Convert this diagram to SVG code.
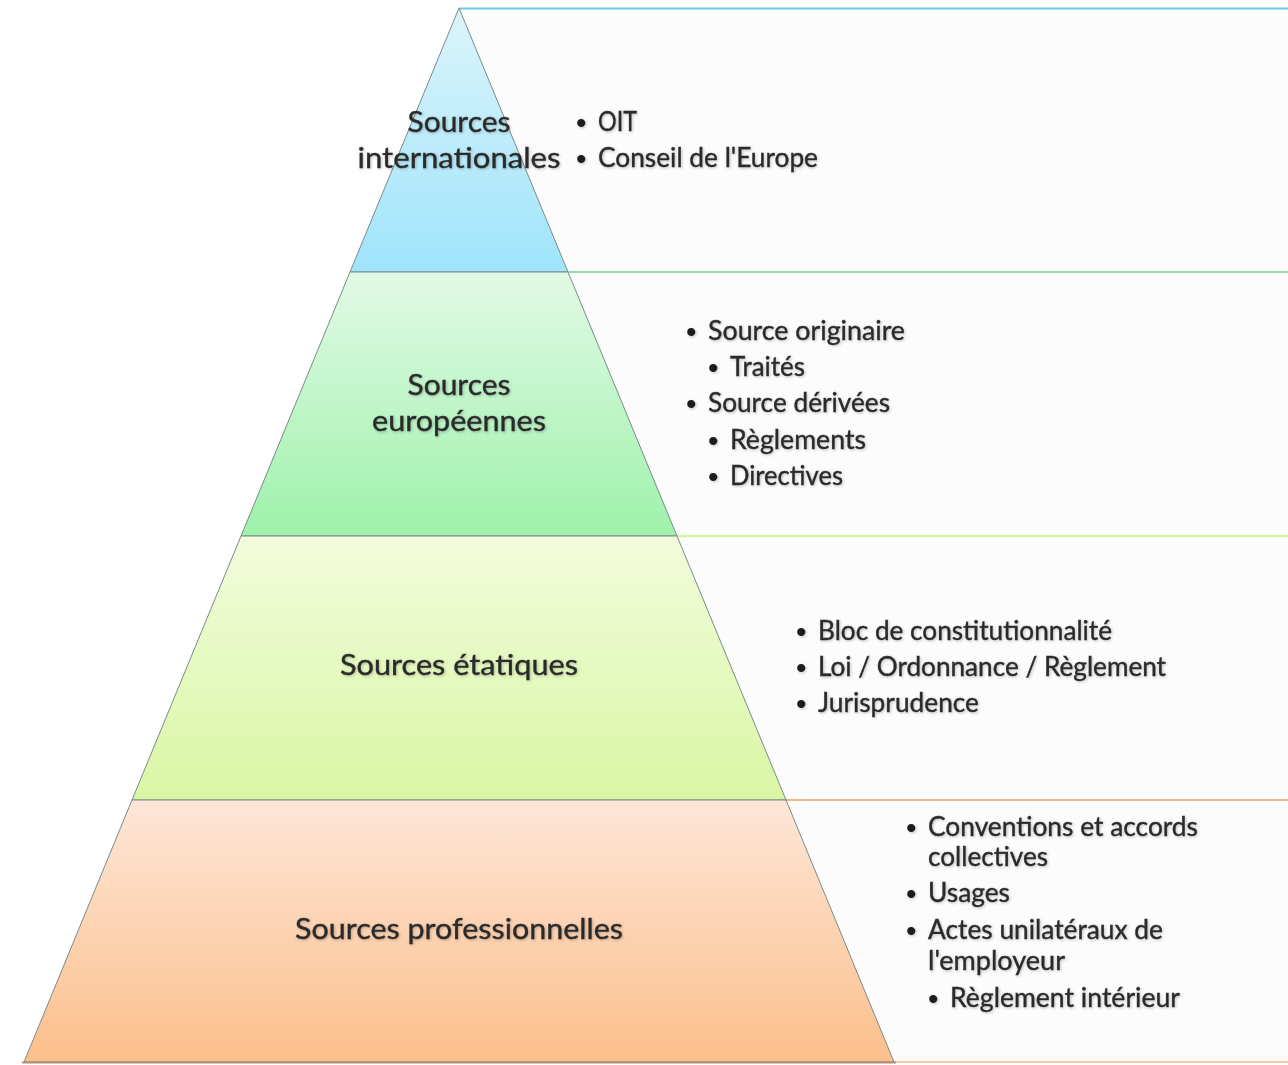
<svg xmlns="http://www.w3.org/2000/svg" width="1288" height="1065" viewBox="0 0 1288 1065">
<style>
.t{font-family:Lato,"Open Sans","Liberation Sans",sans-serif;font-size:26px;fill:#2b2b2b;stroke:#2b2b2b;stroke-width:0.35;filter:url(#sh)}
.L{font-size:29px;text-anchor:middle}
.b{font-family:"Liberation Sans",sans-serif;font-size:30px;fill:#1a1a1a;filter:url(#sh)}
.lvl{stroke:#7a8a8a;stroke-width:1}
.panel{fill:#fcfcfc}
</style>
<defs>
<filter id="sh" x="-5%" y="-30%" width="110%" height="160%">
<feGaussianBlur in="SourceAlpha" stdDeviation="1.5"/>
<feOffset dx="0.5" dy="1" result="b"/>
<feComponentTransfer><feFuncA type="linear" slope="0.25"/></feComponentTransfer>
<feMerge><feMergeNode/><feMergeNode in="SourceGraphic"/></feMerge>
</filter>
<linearGradient id="g1" x1="0" y1="0" x2="0" y2="1"><stop offset="0" stop-color="#dcf4fb"/><stop offset="1" stop-color="#9fe4fb"/></linearGradient>
<linearGradient id="g2" x1="0" y1="0" x2="0" y2="1"><stop offset="0" stop-color="#e2fae5"/><stop offset="1" stop-color="#9ef1ab"/></linearGradient>
<linearGradient id="g3" x1="0" y1="0" x2="0" y2="1"><stop offset="0" stop-color="#f3fcdc"/><stop offset="1" stop-color="#d9f6a4"/></linearGradient>
<linearGradient id="g4" x1="0" y1="0" x2="0" y2="1"><stop offset="0" stop-color="#fde6d8"/><stop offset="1" stop-color="#fcbf8b"/></linearGradient>
</defs>
<rect width="1288" height="1065" fill="#ffffff"/>
<g id="panels">
<polygon class="panel" points="459,8 1288,8 1288,1062 894,1062"/>
<line x1="459" y1="8.5" x2="1288" y2="8.5" stroke="#6cc8dc" stroke-width="2"/>
<line x1="568" y1="272" x2="1288" y2="272" stroke="#8ee39b" stroke-width="2"/>
<line x1="677" y1="536" x2="1288" y2="536" stroke="#d6f1a2" stroke-width="2.5"/>
<line x1="786" y1="800" x2="1288" y2="800" stroke="#f7b583" stroke-width="2"/>
<line x1="894" y1="1062" x2="1288" y2="1062" stroke="#f9c9a3" stroke-width="2"/>
</g>
<g id="level-international">
<polygon class="lvl" points="459,8 568,272 350,272" fill="url(#g1)"/>
<text class="t L" x="459" y="132" textLength="103" lengthAdjust="spacingAndGlyphs">Sources</text>
<text class="t L" x="459" y="168" textLength="203" lengthAdjust="spacingAndGlyphs">internationales</text>
<text class="b" x="576" y="133">•</text>
<text class="t" x="598" y="131" textLength="39" lengthAdjust="spacingAndGlyphs">OIT</text>
<text class="b" x="576" y="169">•</text>
<text class="t" x="598" y="167" textLength="220" lengthAdjust="spacingAndGlyphs">Conseil de l'Europe</text>
</g>
<g id="level-european">
<polygon class="lvl" points="350,272 568,272 677,536 241,536" fill="url(#g2)"/>
<text class="t L" x="459" y="395" textLength="103" lengthAdjust="spacingAndGlyphs">Sources</text>
<text class="t L" x="459" y="431" textLength="174" lengthAdjust="spacingAndGlyphs">européennes</text>
<text class="b" x="686" y="342">•</text>
<text class="t" x="708" y="340" textLength="197" lengthAdjust="spacingAndGlyphs">Source originaire</text>
<text class="b" x="708" y="378">•</text>
<text class="t" x="730" y="376" textLength="75" lengthAdjust="spacingAndGlyphs">Traités</text>
<text class="b" x="686" y="414">•</text>
<text class="t" x="708" y="412" textLength="182" lengthAdjust="spacingAndGlyphs">Source dérivées</text>
<text class="b" x="708" y="451">•</text>
<text class="t" x="730" y="449" textLength="136" lengthAdjust="spacingAndGlyphs">Règlements</text>
<text class="b" x="708" y="487">•</text>
<text class="t" x="730" y="485" textLength="113" lengthAdjust="spacingAndGlyphs">Directives</text>
</g>
<g id="level-state">
<polygon class="lvl" points="241,536 677,536 786,800 132,800" fill="url(#g3)"/>
<text class="t L" x="459" y="675" textLength="238" lengthAdjust="spacingAndGlyphs">Sources étatiques</text>
<text class="b" x="796" y="642">•</text>
<text class="t" x="818" y="640" textLength="294" lengthAdjust="spacingAndGlyphs">Bloc de constitutionnalité</text>
<text class="b" x="796" y="678">•</text>
<text class="t" x="818" y="676" textLength="348" lengthAdjust="spacingAndGlyphs">Loi / Ordonnance / Règlement</text>
<text class="b" x="796" y="714">•</text>
<text class="t" x="818" y="712" textLength="161" lengthAdjust="spacingAndGlyphs">Jurisprudence</text>
</g>
<g id="level-professional">
<polygon class="lvl" points="132,800 786,800 894,1062 24,1062" fill="url(#g4)"/>
<line x1="22" y1="1062.5" x2="896" y2="1062.5" stroke="#b09078" stroke-width="2"/>
<text class="t L" x="459" y="939" textLength="328" lengthAdjust="spacingAndGlyphs">Sources professionnelles</text>
<text class="b" x="906" y="838">•</text>
<text class="t" x="928" y="836" textLength="270" lengthAdjust="spacingAndGlyphs">Conventions et accords</text>
<text class="t" x="928" y="866" textLength="120" lengthAdjust="spacingAndGlyphs">collectives</text>
<text class="b" x="906" y="904">•</text>
<text class="t" x="928" y="902" textLength="82" lengthAdjust="spacingAndGlyphs">Usages</text>
<text class="b" x="906" y="941">•</text>
<text class="t" x="928" y="939" textLength="235" lengthAdjust="spacingAndGlyphs">Actes unilatéraux de</text>
<text class="t" x="928" y="970" textLength="137" lengthAdjust="spacingAndGlyphs">l'employeur</text>
<text class="b" x="928" y="1009">•</text>
<text class="t" x="950" y="1007" textLength="230" lengthAdjust="spacingAndGlyphs">Règlement intérieur</text>
</g>
</svg>
